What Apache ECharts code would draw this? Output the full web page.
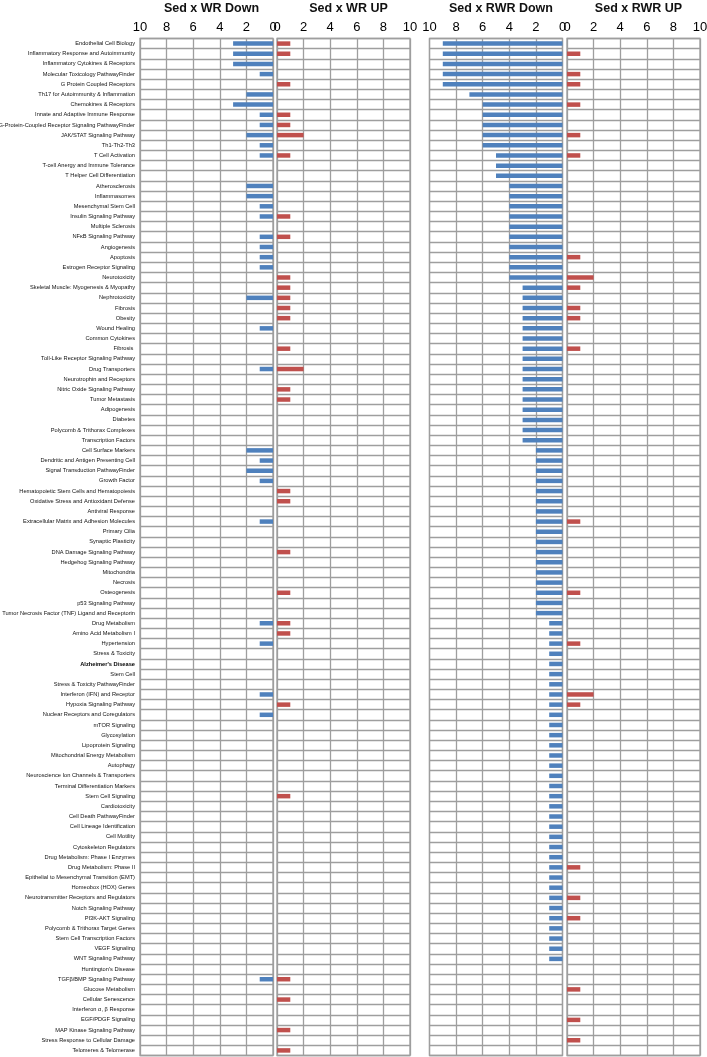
<!DOCTYPE html>
<html>
<head>
<meta charset="utf-8">
<script src="https://cdn.jsdelivr.net/npm/echarts@6/dist/echarts.min.js"></script>
<style>
html,body{margin:0;padding:0;background:#fff;}
#chart{width:707px;height:1057px;}
</style>
</head>
<body>
<div id="chart"></div>
<script>
const categories = [
"Endothelial Cell Biology","Inflammatory Response and Autoimmunity","Inflammatory Cytokines & Receptors","Molecular Toxicology PathwayFinder","G Protein Coupled Receptors",
"Th17 for Autoimmunity & Inflammation","Chemokines & Receptors","Innate and Adaptive Immune Response","G-Protein-Coupled Receptor Signaling PathwayFinder","JAK/STAT Signaling Pathway",
"Th1-Th2-Th3","T Cell Activation","T-cell Anergy and Immune Tolerance","T Helper Cell Differentiation","Atherosclerosis",
"Inflammasomes","Mesenchymal Stem Cell","Insulin Signaling Pathway","Multiple Sclerosis","NFκB Signaling Pathway",
"Angiogenesis","Apoptosis","Estrogen Receptor Signaling","Neurotoxicity","Skeletal Muscle: Myogenesis & Myopathy",
"Nephrotoxicity","Fibrosis","Obesity","Wound Healing","Common Cytokines",
"Fibrosis ","Toll-Like Receptor Signaling Pathway","Drug Transporters","Neurotrophin and Receptors","Nitric Oxide Signaling Pathway",
"Tumor Metastasis","Adipogenesis","Diabetes","Polycomb & Trithorax Complexes","Transcription Factors",
"Cell Surface Markers","Dendritic and Antigen Presenting Cell","Signal Transduction PathwayFinder","Growth Factor","Hematopoietic Stem Cells and Hematopoiesis",
"Oxidative Stress and Antioxidant Defense","Antiviral Response","Extracellular Matrix and Adhesion Molecules","Primary Cilia","Synaptic Plasticity",
"DNA Damage Signaling Pathway","Hedgehog Signaling Pathway","Mitochondria","Necrosis","Osteogenesis",
"p53 Signaling Pathway","Tumor Necrosis Factor (TNF) Ligand and Receptorin","Drug Metabolism","Amino Acid Metabolism I","Hypertension",
"Stress & Toxicity","Alzheimer's Disease","Stem Cell","Stress & Toxicity PathwayFinder","Interferon (IFN) and Receptor",
"Hypoxia Signaling Pathway","Nuclear Receptors and Coregulators","mTOR Signaling","Glycosylation","Lipoprotein Signaling",
"Mitochondrial Energy Metabolism","Autophagy","Neuroscience Ion Channels & Transporters","Terminal Differentiation Markers","Stem Cell Signaling",
"Cardiotoxicity","Cell Death PathwayFinder","Cell Lineage Identification","Cell Motility","Cytoskeleton Regulators",
"Drug Metabolism: Phase I Enzymes","Drug Metabolism: Phase II","Epithelial to Mesenchymal Transition (EMT)","Homeobox (HOX) Genes","Neurotransmitter Receptors and Regulators",
"Notch Signaling Pathway","PI3K-AKT Signaling","Polycomb & Trithorax Target Genes","Stem Cell Transcription Factors","VEGF Signaling",
"WNT Signaling Pathway","Huntington's Disease","TGFβ/BMP Signaling Pathway","Glucose Metabolism","Cellular Senescence",
"Interferon α, β Response","EGF/PDGF Signaling","MAP Kinase Signaling Pathway","Stress Response to Cellular Damage","Telomeres & Telomerase"
];
const boldCategories = ["Alzheimer's Disease"];

const wrDown = [
3,3,3,1,0, 2,3,1,1,2, 1,1,0,0,2, 2,1,1,0,1, 1,1,1,0,0,
2,0,0,1,0, 0,0,1,0,0, 0,0,0,0,0, 2,1,2,1,0, 0,0,1,0,0,
0,0,0,0,0, 0,0,1,0,1, 0,0,0,0,1, 0,1,0,0,0, 0,0,0,0,0,
0,0,0,0,0, 0,0,0,0,0, 0,0,0,0,0, 0,0,1,0,0, 0,0,0,0,0
];
const wrUp = [
1,1,0,0,1, 0,0,1,1,2, 0,1,0,0,0, 0,0,1,0,1, 0,0,0,1,1,
1,1,1,0,0, 1,0,2,0,1, 1,0,0,0,0, 0,0,0,0,1, 1,0,0,0,0,
1,0,0,0,1, 0,0,1,1,0, 0,0,0,0,0, 1,0,0,0,0, 0,0,0,0,1,
0,0,0,0,0, 0,0,0,0,0, 0,0,0,0,0, 0,0,1,0,1, 0,0,1,0,1
];
const rwrDown = [
9,9,9,9,9, 7,6,6,6,6, 6,5,5,5,4, 4,4,4,4,4, 4,4,4,4,3,
3,3,3,3,3, 3,3,3,3,3, 3,3,3,3,3, 2,2,2,2,2, 2,2,2,2,2,
2,2,2,2,2, 2,2,1,1,1, 1,1,1,1,1, 1,1,1,1,1, 1,1,1,1,1,
1,1,1,1,1, 1,1,1,1,1, 1,1,1,1,1, 1,0,0,0,0, 0,0,0,0,0
];
const rwrUp = [
0,1,0,1,1, 0,1,0,0,1, 0,1,0,0,0, 0,0,0,0,0, 0,1,0,2,1,
0,1,1,0,0, 1,0,0,0,0, 0,0,0,0,0, 0,0,0,0,0, 0,0,1,0,0,
0,0,0,0,1, 0,0,0,0,1, 0,0,0,0,2, 1,0,0,0,0, 0,0,0,0,0,
0,0,0,0,0, 0,1,0,0,1, 0,1,0,0,0, 0,0,0,1,0, 0,1,0,1,0
];
const panelTitles = ["Sed x WR Down","Sed x WR UP","Sed x RWR Down","Sed x RWR UP"];
const axisMin = 0, axisMax = 10, axisStep = 2;

const panelData = [wrDown, wrUp, rwrDown, rwrUp];
const panelInverse = [true, false, true, false];
const panelColors = ['#4F81BD','#C0504D','#4F81BD','#C0504D'];
const panelLeft = [140, 277, 429.5, 567];
const panelWidth = 133;
const gridTop = 38.5, gridBottom = 1.5;
const lineColor = '#9e9e9e';
const labelFont = 'Liberation Sans, Arial, sans-serif';

const chart = echarts.init(document.getElementById('chart'), null, {renderer:'canvas'});
const grids = [], xAxes = [], yAxes = [], series = [], titles = [];
for (let i = 0; i < 4; i++) {
  grids.push({left: panelLeft[i], width: panelWidth, top: gridTop, bottom: gridBottom,
    containLabel:false, outerBoundsMode:'none',
    show: true, borderColor: lineColor, borderWidth: 1.3, backgroundColor: '#fff'});
  xAxes.push({type:'value', gridIndex:i, position:'top', min:axisMin, max:axisMax, interval:axisStep,
    inverse: panelInverse[i],
    axisLine:{show:false}, axisTick:{show:false},
    axisLabel:{show:true, fontSize:13, color:'#000', fontFamily:labelFont, margin:5},
    splitLine:{show:true, lineStyle:{color:lineColor, width:1.3}}});
  yAxes.push({type:'category', gridIndex:i, data:categories, inverse:true, boundaryGap:true,
    axisLine:{show:false}, axisTick:{show:false},
    axisLabel:{show: i===0, interval:0, fontSize:5.7, color:'#111', margin:5,
      fontFamily: labelFont,
      formatter: function(v){ return boldCategories.indexOf(v) >= 0 ? '{b|' + v + '}' : v; },
      rich:{b:{fontWeight:'bold', fontSize:5.7, color:'#000', fontFamily:labelFont}}},
    splitLine:{show:true, interval:0, lineStyle:{color:lineColor, width:1.3}}});
  series.push({type:'bar', xAxisIndex:i, yAxisIndex:i, data: panelData[i], barWidth:4.5,
    itemStyle:{color: panelColors[i]}, silent:true, animation:false});
  titles.push({text: panelTitles[i], left: panelLeft[i] + panelWidth/2, top: -3, textAlign:'center',
    textStyle:{fontSize:12.5, fontWeight:'bold', color:'#111', fontFamily:labelFont}});
}
chart.setOption({
  animation:false,
  backgroundColor:'#fff',
  title: titles,
  grid: grids,
  xAxis: xAxes,
  yAxis: yAxes,
  series: series
});
</script>
</body>
</html>
